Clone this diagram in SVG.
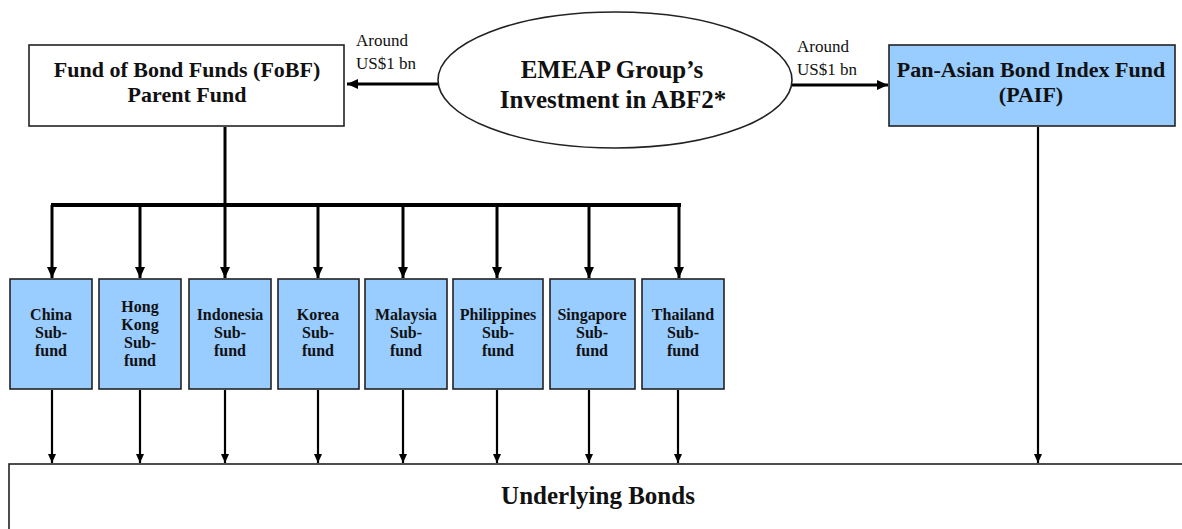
<svg xmlns="http://www.w3.org/2000/svg" width="1182" height="529" viewBox="0 0 1182 529">
<style>
.box{fill:#ffffff;stroke:#222;stroke-width:1.6}
.blue{fill:#99ccff;stroke:#222;stroke-width:1.6}
.t{font-family:"Liberation Serif","Times New Roman",serif;font-weight:bold;fill:#111;text-anchor:middle}
.h{font-size:22px}
.e{font-size:25px}
.s{font-size:16px}
.lbl{font-family:"Liberation Serif","Times New Roman",serif;font-size:17px;fill:#111}
.c{stroke:#000;fill:none}
.thick{stroke-width:3}
.med{stroke-width:2.2}
</style>
<defs>
<marker id="ah" markerUnits="userSpaceOnUse" markerWidth="12" markerHeight="12" refX="11" refY="6" orient="auto">
<path d="M0,1 L11,6 L0,11 Z" fill="#000"/>
</marker>
<marker id="ahs" markerUnits="userSpaceOnUse" markerWidth="10" markerHeight="10" refX="9" refY="5" orient="auto">
<path d="M0,1 L9,5 L0,9 Z" fill="#000"/>
</marker>
</defs>

<g id="connectors">
<line class="c thick" x1="438" y1="84" x2="347" y2="84" marker-end="url(#ah)"/>
<line class="c thick" x1="792" y1="85" x2="888" y2="85" marker-end="url(#ah)"/>
<line class="c thick" x1="225" y1="127" x2="225" y2="205"/>
<line class="c" stroke-width="4" x1="51" y1="205" x2="681" y2="205"/>
<line class="c thick" x1="52" y1="205" x2="52" y2="278" marker-end="url(#ah)"/>
<line class="c thick" x1="140" y1="205" x2="140" y2="278" marker-end="url(#ah)"/>
<line class="c thick" x1="225" y1="205" x2="225" y2="278" marker-end="url(#ah)"/>
<line class="c thick" x1="318" y1="205" x2="318" y2="278" marker-end="url(#ah)"/>
<line class="c thick" x1="403" y1="205" x2="403" y2="278" marker-end="url(#ah)"/>
<line class="c thick" x1="497" y1="205" x2="497" y2="278" marker-end="url(#ah)"/>
<line class="c thick" x1="589" y1="205" x2="589" y2="278" marker-end="url(#ah)"/>
<line class="c thick" x1="679" y1="205" x2="679" y2="278" marker-end="url(#ah)"/>
<line class="c med" x1="52" y1="390" x2="52" y2="463" marker-end="url(#ahs)"/>
<line class="c med" x1="140" y1="390" x2="140" y2="463" marker-end="url(#ahs)"/>
<line class="c med" x1="225" y1="390" x2="225" y2="463" marker-end="url(#ahs)"/>
<line class="c med" x1="318" y1="390" x2="318" y2="463" marker-end="url(#ahs)"/>
<line class="c med" x1="403" y1="390" x2="403" y2="463" marker-end="url(#ahs)"/>
<line class="c med" x1="497" y1="390" x2="497" y2="463" marker-end="url(#ahs)"/>
<line class="c med" x1="589" y1="390" x2="589" y2="463" marker-end="url(#ahs)"/>
<line class="c med" x1="678" y1="390" x2="678" y2="463" marker-end="url(#ahs)"/>
<line class="c med" x1="1038" y1="127" x2="1038" y2="463" marker-end="url(#ahs)"/>
<text class="lbl" x="356" y="46">Around</text>
<text class="lbl" x="356" y="69">US$1 bn</text>
<text class="lbl" x="797" y="52">Around</text>
<text class="lbl" x="797" y="75">US$1 bn</text>
</g>

<g id="fobf">
<rect class="box" x="29" y="45" width="315" height="81"/>
<text class="t h" x="187" y="77">Fund of Bond Funds (FoBF)</text>
<text class="t h" x="187" y="102">Parent Fund</text>
</g>

<g id="emeap">
<ellipse class="box" cx="615" cy="80" rx="177" ry="68"/>
<text class="t e" x="612" y="78">EMEAP Group’s</text>
<text class="t e" x="613" y="108">Investment in ABF2*</text>
</g>

<g id="paif">
<rect class="blue" x="889" y="45" width="286" height="81"/>
<text class="t h" x="1031" y="77">Pan-Asian Bond Index Fund</text>
<text class="t h" x="1031" y="102">(PAIF)</text>
</g>

<g id="china">
<rect class="blue" x="10" y="279" width="82" height="110"/>
<text class="t s" x="51" y="320">China</text>
<text class="t s" x="51" y="338">Sub-</text>
<text class="t s" x="51" y="356">fund</text>
</g>
<g id="hongkong">
<rect class="blue" x="99" y="279" width="82" height="110"/>
<text class="t s" x="140" y="312">Hong</text>
<text class="t s" x="140" y="330">Kong</text>
<text class="t s" x="140" y="348">Sub-</text>
<text class="t s" x="140" y="366">fund</text>
</g>
<g id="indonesia">
<rect class="blue" x="189" y="279" width="82" height="110"/>
<text class="t s" x="230" y="320">Indonesia</text>
<text class="t s" x="230" y="338">Sub-</text>
<text class="t s" x="230" y="356">fund</text>
</g>
<g id="korea">
<rect class="blue" x="278" y="279" width="81" height="110"/>
<text class="t s" x="318" y="320">Korea</text>
<text class="t s" x="318" y="338">Sub-</text>
<text class="t s" x="318" y="356">fund</text>
</g>
<g id="malaysia">
<rect class="blue" x="365" y="279" width="82" height="110"/>
<text class="t s" x="406" y="320">Malaysia</text>
<text class="t s" x="406" y="338">Sub-</text>
<text class="t s" x="406" y="356">fund</text>
</g>
<g id="philippines">
<rect class="blue" x="453" y="279" width="90" height="110"/>
<text class="t s" x="498" y="320">Philippines</text>
<text class="t s" x="498" y="338">Sub-</text>
<text class="t s" x="498" y="356">fund</text>
</g>
<g id="singapore">
<rect class="blue" x="550" y="279" width="85" height="110"/>
<text class="t s" x="592" y="320">Singapore</text>
<text class="t s" x="592" y="338">Sub-</text>
<text class="t s" x="592" y="356">fund</text>
</g>
<g id="thailand">
<rect class="blue" x="642" y="279" width="82" height="110"/>
<text class="t s" x="683" y="320">Thailand</text>
<text class="t s" x="683" y="338">Sub-</text>
<text class="t s" x="683" y="356">fund</text>
</g>

<g id="underlying">
<rect class="box" x="9" y="464" width="1200" height="100"/>
<text class="t" font-size="25" x="598" y="504">Underlying Bonds</text>
</g>
</svg>
